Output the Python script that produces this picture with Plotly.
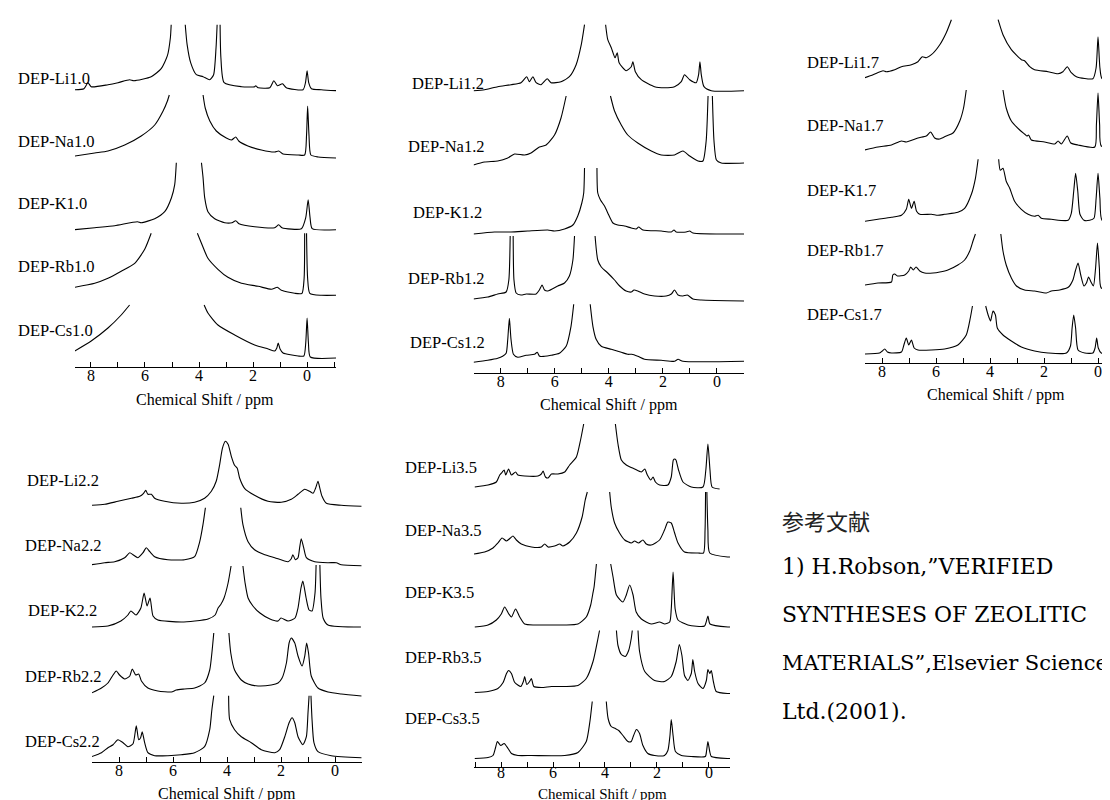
import plotly.graph_objects as go

GAP = (None, None)

# ---------------- spectra: (chemical shift / ppm, relative intensity) ----------------
# panel 1 : x = 1.0
LI10 = [(8.60,1),(8.26,2),(8.11,8),(7.99,4),(7.37,6),(7.00,8),(6.57,11),(6.41,10),(5.77,14),(5.40,22),(5.17,35),(5.06,53),(5.03,66),GAP,
        (4.51,66),(4.44,46),(4.31,28),(4.10,16),(3.85,14),(3.60,11),(3.46,16),(3.37,43),(3.33,66),GAP,
        (3.22,66),(3.19,33),(3.07,8),(2.43,4),(1.94,4),(1.90,5),(1.81,3),(1.38,3),(1.23,10),(1.10,5),(0.91,7),(0.77,3),
        (0.15,1),(0.06,8),(0.00,20),(-0.06,8),(-0.16,2),(-0.53,1),(-1.09,0)]
NA10 = [(8.60,2),(7.86,5),(7.37,7),(6.75,13),(6.14,22),(5.64,33),(5.33,47),(5.17,57),(5.10,63),GAP,
        (3.85,63),(3.77,50),(3.60,37),(3.36,27),(2.99,20),(2.80,18),(2.64,21),(2.53,17),(2.19,12),(1.69,8),(1.20,6),(1.05,7),
        (0.89,4),(0.33,3),(0.09,3),(0.02,23),(-0.02,52),(-0.07,23),(-0.14,3),(-0.41,1),(-1.09,0)]
K10 = [(8.60,0),(7.86,2),(7.12,4),(6.28,8),(6.14,7),(5.64,11),(5.27,18),(5.02,32),(4.90,45),(4.84,67),GAP,
       (3.91,67),(3.85,52),(3.79,32),(3.67,18),(3.42,11),(3.05,7),(2.78,7),(2.64,9),(2.52,6),(1.94,3),(1.20,2),(1.05,5),
       (0.93,2),(0.21,1),(0.05,12),(-0.04,30),(-0.11,12),(-0.19,1),(-1.09,0)]
RB10 = [(8.60,8),(7.86,12),(7.37,17),(6.88,24),(6.38,32),(6.01,46),(5.77,62),GAP,
        (4.06,62),(3.91,52),(3.67,37),(3.30,26),(2.93,18),(2.43,12),(1.81,9),(1.32,6),(1.10,8),(0.95,5),(0.46,2),(0.19,2),
        (0.11,17),(0.09,62),GAP,(0.02,62),(-0.02,17),(-0.10,2),(-0.53,0),(-1.09,0)]
CS10 = [(8.60,7),(7.99,17),(7.37,30),(6.88,43),(6.57,53),GAP,
        (3.81,53),(3.67,45),(3.30,33),(2.68,23),(1.94,13),(1.44,9),(1.20,7),(1.12,10),(1.07,15),(1.00,9),(0.89,5),(0.33,2),
        (0.12,2),(0.05,15),(0.00,40),(-0.05,15),(-0.12,1),(-1.09,0)]

# panel 2 : x = 1.2
LI12 = [(9.01,0),(8.60,1),(8.11,4),(7.62,6),(7.25,8),(7.04,14),(6.94,9),(6.81,14),(6.69,8),(6.51,6),(6.28,12),(6.14,8),(5.77,9),
        (5.46,14),(5.21,26),(5.02,46),(4.90,66),GAP,
        (4.12,66),(4.04,51),(3.91,43),(3.77,33),(3.69,38),(3.62,28),(3.36,20),(3.17,24),(3.11,29),(3.02,19),(2.80,11),(2.31,4),
        (1.94,3),(1.57,4),(1.32,9),(1.20,16),(1.01,11),(0.77,8),(0.68,16),(0.63,29),(0.58,16),(0.48,4),(0.21,0),(-1.00,0)]
NA12 = [(9.01,-2),(8.60,1),(8.11,2),(7.74,5),(7.49,9),(7.12,8),(6.88,10),(6.57,16),(6.32,18),(6.01,28),(5.77,45),(5.58,67),GAP,
        (3.94,67),(3.79,52),(3.54,38),(3.30,28),(2.93,20),(2.43,12),(2.06,8),(1.57,8),(1.26,12),(1.01,7),(0.70,2),(0.52,2),
        (0.40,22),(0.33,67),GAP,(0.17,67),(0.11,22),(0.02,3),(-0.16,0),(-1.00,0)]
K12 = [(9.01,-1),(8.23,1),(7.62,1),(7.00,2),(6.26,3),(6.01,2),(5.64,4),(5.33,8),(5.15,17),(5.00,30),(4.93,40),(4.90,65),GAP,
       (4.44,65),(4.41,40),(4.31,33),(4.16,27),(4.04,20),(3.85,10),(3.67,8),(3.42,7),(3.17,5),(2.99,4),(2.90,6),(2.74,3),
       (2.06,2),(1.69,1),(1.59,3),(1.51,1),(1.14,1),(1.01,2),(0.89,0),(-1.00,-1)]
RB12 = [(9.01,0),(8.48,2),(8.11,5),(7.80,7),(7.70,19),(7.65,63),GAP,(7.54,63),(7.51,19),(7.43,6),(7.25,4),(7.06,5),(6.69,5),
        (6.57,9),(6.47,14),(6.38,9),(6.26,8),(5.89,13),(5.64,16),(5.46,23),(5.33,39),(5.27,63),GAP,
        (4.51,63),(4.41,39),(4.28,32),(4.04,26),(3.79,19),(3.60,13),(3.36,8),(3.17,7),(3.07,9),(2.93,8),(2.68,5),(2.31,3),
        (1.88,3),(1.69,5),(1.57,9),(1.44,4),(1.26,3),(1.10,4),(0.89,0),(0.58,-1),(-1.00,-2)]
CS12 = [(9.01,-1),(8.48,1),(8.11,3),(7.93,5),(7.80,8),(7.74,22),(7.68,43),(7.62,22),(7.53,7),(7.37,4),(7.06,6),(6.75,7),
        (6.65,9),(6.56,5),(6.38,5),(6.14,6),(5.83,8),(5.58,15),(5.40,35),(5.30,57),GAP,
        (4.69,57),(4.59,35),(4.47,22),(4.28,15),(3.91,12),(3.54,9),(3.30,7),(3.15,7),(2.93,5),(2.68,2),(2.06,1),(1.57,0),
        (1.44,2),(1.26,0),(-1.00,0)]

# panel 3 : x = 1.7
LI17 = [(8.64,2),(8.33,5),(7.96,9),(7.84,8),(7.53,10),(7.28,13),(6.91,15),(6.67,18),(6.51,23),(6.36,22),(6.17,25),(5.86,35),
        (5.62,47),(5.43,60),GAP,
        (3.70,60),(3.52,45),(3.21,30),(2.84,20),(2.72,19),(2.53,13),(2.35,10),(1.85,8),(1.48,6),(1.30,8),(1.14,13),(0.99,7),
        (0.80,3),(0.19,1),(0.07,12),(0.00,43),(-0.07,12),(-0.15,1),(-0.74,0),(-1.10,0)]
NA17 = [(8.64,-2),(8.15,1),(7.65,3),(7.28,7),(7.10,6),(6.67,10),(6.36,12),(6.20,16),(6.05,10),(5.86,9),(5.62,12),(5.37,15),
        (5.12,27),(4.98,40),(4.88,58),GAP,
        (3.52,58),(3.40,40),(3.21,27),(2.90,18),(2.72,14),(2.63,12),(2.57,13),(2.47,8),(1.98,6),(1.60,4),(1.48,7),(1.36,4),
        (1.14,12),(1.01,5),(0.74,3),(0.12,1),(0.06,23),(0.00,55),(-0.06,23),(-0.12,2),(-0.74,0),(-1.10,0)]
K17 = [(8.64,0),(8.15,2),(7.65,4),(7.28,6),(7.10,12),(7.01,22),(6.91,13),(6.81,20),(6.72,10),(6.60,7),(6.17,7),(5.93,6),
       (5.68,7),(5.19,9),(4.94,13),(4.69,27),(4.54,43),(4.44,62),GAP,
       (3.68,62),(3.62,51),(3.52,53),(3.40,40),(3.27,33),(3.09,20),(2.84,12),(2.59,7),(2.35,5),(2.22,6),(2.10,3),(1.73,2),
       (1.11,1),(0.99,8),(0.90,30),(0.83,48),(0.75,30),(0.67,7),(0.52,1),(0.31,1),(0.15,3),(0.07,23),(0.00,48),(-0.07,23),
       (-0.15,1),(-0.74,0),(-1.10,0)]
RB17 = [(8.64,3),(8.15,5),(7.65,6),(7.60,13),(7.53,14),(7.43,12),(7.16,13),(7.01,17),(6.94,21),(6.84,18),(6.74,21),(6.60,17),
        (6.42,15),(6.11,15),(5.86,16),(5.56,18),(5.19,23),(4.94,28),(4.75,37),(4.63,47),(4.54,54),GAP,
        (3.60,54),(3.52,37),(3.40,23),(3.21,10),(3.02,2),(2.72,-2),(2.35,-3),(1.91,-5),(1.73,-3),(1.42,-2),(1.09,1),(0.93,8),
        (0.84,17),(0.74,25),(0.64,13),(0.52,2),(0.43,5),(0.35,11),(0.26,6),(0.17,2),(0.09,20),(0.02,45),(-0.05,20),(-0.12,0),
        (-0.74,-2),(-1.10,-2)]
CS17 = [(8.64,0),(8.09,1),(7.99,3),(7.90,5),(7.80,2),(7.65,1),(7.28,2),(7.19,9),(7.10,16),(7.01,9),(6.91,14),(6.81,6),
        (6.67,4),(6.17,4),(5.68,5),(5.19,9),(4.88,19),(4.73,36),(4.65,48),GAP,
        (4.16,48),(4.07,39),(3.98,33),(3.89,43),(3.80,39),(3.73,26),(3.52,19),(3.21,13),(2.84,7),(2.35,3),(1.85,1),(1.17,1),
        (1.02,8),(0.96,26),(0.90,39),(0.83,26),(0.74,4),(0.49,1),(0.19,1),(0.11,6),(0.05,16),(-0.01,6),(-0.12,1),(-0.74,0),
        (-1.10,0)]

# panel 4 : x = 2.2
LI22 = [(9.02,0),(8.53,1),(8.04,4),(7.54,7),(7.23,9),(7.09,12),(7.01,15),(6.93,11),(6.80,11),(6.68,7),(6.31,4),(5.69,2),
        (5.20,3),(4.83,7),(4.58,14),(4.40,24),(4.27,41),(4.17,57),(4.06,64),(3.96,61),(3.84,49),(3.72,40),(3.62,37),(3.53,27),
        (3.35,17),(2.98,10),(2.48,4),(1.99,3),(1.62,6),(1.37,11),(1.12,16),(0.94,14),(0.81,12),(0.72,17),(0.63,24),(0.56,17),
        (0.48,9),(0.32,2),(-0.23,0),(-0.98,-1)]
NA22 = [(9.02,0),(8.53,2),(8.16,3),(7.79,7),(7.60,12),(7.48,10),(7.30,7),(7.11,12),(6.99,17),(6.86,13),(6.68,8),(6.19,5),
        (5.57,5),(5.20,8),(5.01,23),(4.89,40),(4.80,57),GAP,
        (3.49,57),(3.41,40),(3.22,23),(2.98,15),(2.60,10),(2.23,7),(1.74,3),(1.62,6),(1.56,10),(1.47,5),(1.37,7),(1.31,17),
        (1.25,26),(1.16,17),(1.06,7),(0.75,3),(0.26,2),(-0.05,2),(-0.23,0),(-0.98,-1)]
K22 = [(9.04,0),(8.41,1),(7.93,6),(7.67,12),(7.56,16),(7.37,12),(7.19,19),(7.07,34),(6.96,21),(6.85,29),(6.74,11),(6.56,7),
       (5.70,5),(5.19,6),(4.70,8),(4.44,12),(4.33,19),(4.22,23),(4.11,29),(3.96,44),(3.85,61),GAP,
       (3.41,61),(3.33,44),(3.22,29),(3.04,21),(2.78,14),(2.41,8),(2.11,6),(2.00,9),(1.74,6),(1.48,9),(1.37,19),(1.26,39),
       (1.19,46),(1.07,29),(0.96,17),(0.85,16),(0.74,34),(0.70,62),GAP,(0.56,62),(0.52,29),(0.44,9),(0.26,2),(-0.96,0)]
RB22 = [(9.02,0),(8.65,5),(8.41,10),(8.22,18),(8.10,22),(7.98,18),(7.79,14),(7.60,17),(7.51,24),(7.38,18),(7.27,19),(7.17,12),
        (6.93,5),(6.56,2),(6.06,1),(5.88,3),(5.57,4),(5.20,5),(4.83,10),(4.64,23),(4.56,40),(4.49,60),GAP,
        (3.93,60),(3.86,40),(3.72,23),(3.47,13),(3.22,9),(2.85,7),(2.36,8),(2.11,10),(1.96,15),(1.80,30),(1.70,50),(1.62,55),
        (1.49,50),(1.37,37),(1.22,27),(1.12,37),(1.05,50),(0.98,40),(0.88,17),(0.63,5),(0.26,1),(-0.23,-1),(-0.98,-3)]
CS22 = [(9.02,-1),(8.65,3),(8.41,8),(8.22,11),(8.04,16),(7.85,13),(7.67,9),(7.48,12),(7.36,30),(7.27,16),(7.20,18),(7.14,24),
        (7.05,13),(6.93,3),(6.68,0),(6.19,0),(5.69,1),(5.20,3),(4.83,9),(4.64,26),(4.56,46),(4.49,60),GAP,
        (3.94,60),(3.90,36),(3.72,26),(3.47,19),(3.10,13),(2.73,6),(2.23,3),(2.05,6),(1.86,19),(1.70,33),(1.59,38),(1.49,33),
        (1.37,19),(1.19,11),(1.06,19),(1.00,43),(0.96,60),GAP,(0.89,60),(0.85,36),(0.78,13),(0.63,4),(0.14,0),(-0.98,-2)]

# panel 5 : x = 3.5
LI35 = [(9.01,0),(8.50,2),(8.18,5),(8.05,12),(7.95,15),(7.88,17),(7.82,12),(7.71,18),(7.60,12),(7.44,15),(7.35,12),(7.09,11),
        (6.58,11),(6.45,13),(6.38,16),(6.29,10),(6.19,9),(6.06,13),(5.81,13),(5.55,15),(5.36,22),(5.10,30),(4.94,47),(4.82,63),GAP,
        (3.60,63),(3.50,43),(3.37,27),(3.18,22),(2.86,18),(2.60,15),(2.47,18),(2.37,12),(2.24,7),(2.15,10),(2.06,5),(1.90,2),
        (1.58,2),(1.45,10),(1.37,27),(1.32,28),(1.27,27),(1.17,17),(1.00,5),(0.68,0),(0.23,0),(0.12,17),(0.04,43),(-0.04,17),
        (-0.12,0),(-0.41,-2)]
NA35 = [(9.04,0),(8.63,2),(8.31,6),(8.12,11),(7.96,16),(7.79,13),(7.64,16),(7.54,18),(7.41,14),(7.22,10),(6.83,7),(6.45,7),
        (6.32,10),(6.19,7),(5.94,8),(5.74,10),(5.62,8),(5.36,12),(5.10,21),(4.88,37),(4.76,54),(4.68,62),GAP,
        (3.82,62),(3.76,47),(3.63,31),(3.44,21),(3.24,14),(2.99,11),(2.86,13),(2.71,11),(2.54,14),(2.41,10),(2.22,9),(1.90,14),
        (1.71,24),(1.58,32),(1.45,31),(1.32,21),(1.19,11),(0.94,2),(0.42,1),(0.21,1),(0.15,24),(0.13,62),GAP,
        (0.08,62),(0.04,24),(-0.03,1),(-0.73,-3),(-0.81,-3)]
K35 = [(9.01,0),(8.50,2),(8.18,7),(7.99,13),(7.86,20),(7.70,13),(7.60,10),(7.44,18),(7.28,10),(7.09,3),(6.71,2),(6.07,2),
       (5.55,2),(5.04,3),(4.72,10),(4.55,22),(4.47,33),(4.42,40),(4.33,63),GAP,
       (3.78,63),(3.69,50),(3.56,32),(3.31,25),(3.18,32),(3.05,42),(2.92,32),(2.80,15),(2.60,8),(2.22,3),(1.90,5),(1.70,3),
       (1.51,5),(1.45,18),(1.38,55),(1.30,18),(1.19,7),(0.81,2),(0.17,1),(0.04,11),(-0.04,3),(-0.73,0),(-0.81,0)]
RB35 = [(9.01,0),(8.50,1),(8.12,4),(7.92,10),(7.79,19),(7.71,22),(7.60,19),(7.47,10),(7.24,6),(7.14,11),(7.09,16),(7.01,8),
        (6.90,11),(6.83,14),(6.74,6),(6.45,5),(6.06,6),(5.55,6),(5.04,7),(4.72,14),(4.46,31),(4.27,54),(4.21,62),GAP,
        (3.56,62),(3.50,47),(3.37,38),(3.22,36),(3.09,42),(2.99,54),(2.95,62),GAP,
        (2.73,62),(2.67,41),(2.47,21),(2.09,12),(1.71,11),(1.45,16),(1.26,31),(1.14,48),(1.04,37),(0.94,17),(0.81,12),(0.68,19),
        (0.62,33),(0.55,21),(0.42,9),(0.23,4),(0.10,12),(0.04,23),(-0.03,19),(-0.09,22),(-0.17,11),(-0.28,1),(-0.73,-1),(-0.81,-1)]
CS35 = [(9.01,-1),(8.50,0),(8.31,2),(8.21,10),(8.14,16),(8.01,12),(7.88,14),(7.73,9),(7.60,4),(7.35,2),(6.83,2),(5.55,2),
        (5.04,5),(4.72,16),(4.58,36),(4.49,56),GAP,
        (3.95,56),(3.88,39),(3.76,31),(3.60,29),(3.47,27),(3.31,22),(3.12,16),(2.99,16),(2.90,22),(2.79,28),(2.67,24),(2.54,12),
        (2.35,4),(2.09,2),(1.71,2),(1.58,7),(1.50,22),(1.45,38),(1.38,22),(1.29,6),(1.06,2),(0.68,1),(0.14,1),(0.09,7),
        (0.04,16),(-0.03,6),(-0.09,1),(-0.73,-1),(-0.81,-1)]

PANEL_SPECTRA = [
    [LI10, NA10, K10, RB10, CS10],
    [LI12, NA12, K12, RB12, CS12],
    [LI17, NA17, K17, RB17, CS17],
    [LI22, NA22, K22, RB22, CS22],
    [LI35, NA35, K35, RB35, CS35],
]
CATIONS = ["Li", "Na", "K", "Rb", "Cs"]
RATIOS = ["1.0", "1.2", "1.7", "2.2", "3.5"]
X_TITLE = "Chemical Shift / ppm"
REF_HEAD = "参考文献"
REF_LINES = ["1) H.Robson,\u201dVERIFIED", "SYNTHESES OF ZEOLITIC",
             "MATERIALS\u201d,Elsevier Science", "Ltd.(2001)."]
REF_SIZES = [22, 22, 21, 22]

# ---------------- layout (pixel geometry of the page) ----------------
W, H = 1110, 800
GEOM = [
    dict(x0=67, x1=328, rng=(8.59, -1.07), axis=359, top=0, standoff=-6, title_size=16,
         base=[82.7, 150, 221.7, 287.3, 350], lab_y=[70, 133, 195, 258, 322], lab_x=[8]*5, title_y=392, title_x=197.5),
    dict(x0=465.7, x1=736, rng=(9.0, -1.0), axis=365, top=0, standoff=-6, title_size=16,
         base=[82.7, 155, 225, 291, 353.3], lab_y=[75, 138, 205, 270, 335], lab_x=[402, 398, 403, 398, 400], title_y=397, title_x=601),
    dict(x0=857, x1=1110, rng=(8.63, -0.74), axis=355, top=0, standoff=-6, title_size=16,
         base=[71.7, 140, 213.3, 280, 346], lab_y=[55, 118, 182, 243, 306], lab_x=[797]*5, title_y=387, title_x=988),
    dict(x0=84, x1=354, rng=(9.0, -1.0), axis=754, top=405, standoff=-6, title_size=16,
         base=[497.3, 556.7, 619, 685, 747.7], lab_y=[472, 537, 602, 668, 733], lab_x=[17, 15, 18, 15, 15], title_y=786, title_x=219),
    dict(x0=466, x1=722, rng=(9.04, -0.81), axis=759, top=400, standoff=-9, title_size=15,
         base=[479, 546, 619, 684.5, 749.5], lab_y=[459, 522, 584, 649, 710], lab_x=[395]*5, title_y=786, title_x=594),
]

SERIF = "Liberation Serif"
fig = go.Figure()
annotations = []

for i, (g, specs, ratio) in enumerate(zip(GEOM, PANEL_SPECTRA, RATIOS), start=1):
    xa = "x" if i == 1 else f"x{i}"
    ya = "y" if i == 1 else f"y{i}"
    for spec, base, cat, ly, lx in zip(specs, g["base"], CATIONS, g["lab_y"], g["lab_x"]):
        off = g["axis"] - base
        xs = [p for p, _ in spec]
        ys = [None if v is None else off + v for _, v in spec]
        fig.add_trace(go.Scatter(x=xs, y=ys, xaxis=xa, yaxis=ya, mode="lines",
                                 line=dict(color="black", width=1.1, shape="spline", smoothing=0.6),
                                 hoverinfo="skip", showlegend=False, connectgaps=False))
        annotations.append(dict(text=f"DEP-{cat}{ratio}", x=lx / W, y=1 - ly / H, xref="paper", yref="paper",
                                xanchor="left", yanchor="middle", showarrow=False,
                                font=dict(family=SERIF, size=16.5, color="black")))
    annotations.append(dict(text=X_TITLE, x=g["title_x"] / W, y=1 - g["title_y"] / H, xref="paper", yref="paper",
                            xanchor="center", yanchor="middle", showarrow=False,
                            font=dict(family=SERIF, size=g["title_size"], color="black")))
    key = "" if i == 1 else str(i)
    fig.layout["xaxis" + key] = dict(
        domain=[g["x0"] / W, g["x1"] / W], range=list(g["rng"]), anchor=ya,
        showline=True, linecolor="black", linewidth=1, mirror=False,
        ticks="inside", ticklen=5, tickwidth=1, tickcolor="black", tick0=0, dtick=2,
        minor=dict(tick0=0, dtick=1, ticks="inside", ticklen=5, tickcolor="black", tickwidth=1),
        ticklabelstandoff=g["standoff"],
        showgrid=False, zeroline=False, fixedrange=True,
        tickfont=dict(family=SERIF, size=16, color="black"))
    fig.layout["yaxis" + key] = dict(
        domain=[1 - g["axis"] / H, 1 - g["top"] / H], range=[0, g["axis"] - g["top"]], anchor=xa,
        visible=False, fixedrange=True)

REF_X = 772
annotations.append(dict(text=REF_HEAD, x=REF_X / W, y=1 - 512 / H, xref="paper", yref="paper",
                        xanchor="left", yanchor="middle", showarrow=False,
                        font=dict(family="Noto Sans CJK JP", size=22, color="#222")))
for k, (line, fs) in enumerate(zip(REF_LINES, REF_SIZES)):
    annotations.append(dict(text=line, x=REF_X / W, y=1 - (558 + 48.5 * k) / H, xref="paper", yref="paper",
                            xanchor="left", yanchor="middle", showarrow=False,
                            font=dict(family="DejaVu Serif", size=fs, color="black")))

fig.update_layout(width=W, height=H, autosize=False, margin=dict(l=0, r=0, t=0, b=0),
                  paper_bgcolor="white", plot_bgcolor="rgba(0,0,0,0)", annotations=annotations,
                  showlegend=False)
fig.write_html("out.html")
